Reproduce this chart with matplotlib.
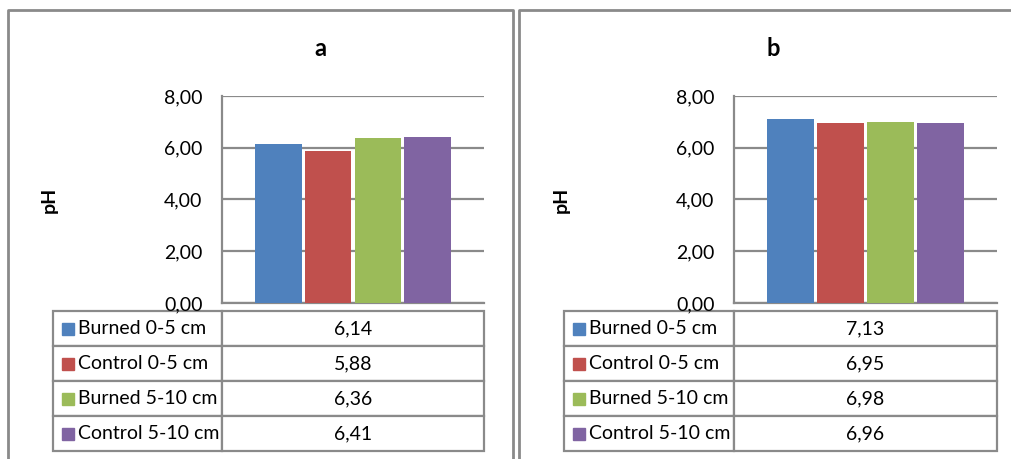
import matplotlib
matplotlib.use('Agg')
import matplotlib.pyplot as plt
from matplotlib.patches import Rectangle
from matplotlib.lines import Line2D
import numpy as np

plt.rcParams['font.family'] = ['Lato', 'DejaVu Sans']

series = ['Burned 0-5 cm', 'Control 0-5 cm', 'Burned 5-10 cm', 'Control 5-10 cm']
colors = ['#4F81BD', '#C0504D', '#9BBB59', '#8064A2']
ph_a = [6.14, 5.88, 6.36, 6.41]
ph_b = [7.13, 6.95, 6.98, 6.96]
yticks = [0, 2, 4, 6, 8]

W, H = 1012, 459
grey = '#8a8a8a'
fs = 14

def fmt(v):
    return '{:.2f}'.format(v).replace('.', ',')

fig = plt.figure(figsize=(W / 100, H / 100), dpi=100)

def px_rect(l, t, r, b):
    # pixel box -> figure fraction [left, bottom, width, height]
    return [l / W, 1 - b / H, (r - l) / W, (b - t) / H]

def panel(values, title, ax_box, tbl_left, title_x, ylab_x, frame_l, frame_r):
    l, t, r, b = ax_box
    ax = fig.add_axes(px_rect(l, t, r, b))
    x = np.arange(len(values))
    ax.bar(x, values, width=0.93, color=colors, zorder=3)
    ax.set_xlim(-1.136, 4.136)
    ax.set_ylim(0, 8)
    ax.set_yticks(yticks)
    ax.set_yticklabels([fmt(v) for v in yticks], fontsize=fs)
    ax.set_xticks([])
    ax.tick_params(axis='y', length=0, pad=14)
    ax.grid(axis='y', color=grey, lw=1.6, zorder=0)
    for s in ['top', 'right']:
        ax.spines[s].set_visible(False)
    for s in ['left', 'bottom']:
        ax.spines[s].set_color(grey)
        ax.spines[s].set_linewidth(1.6)
    ax.set_ylabel('pH', fontsize=fs, fontweight='bold')
    ax.yaxis.set_label_coords((ylab_x - l) / (r - l), 0.5)

    # data table below the plot
    tw = r - tbl_left
    bbox = [(tbl_left - l) / (r - l), (b - 451) / (b - t),
            tw / (r - l), (451 - 311) / (b - t)]
    cells = [[s, fmt(v)] for s, v in zip(series, values)]
    tbl = ax.table(cellText=cells, colWidths=[(l - tbl_left) / tw, (r - l) / tw],
                   cellLoc='center', bbox=bbox)
    tbl.auto_set_font_size(False)
    tbl.set_fontsize(fs)
    for (i, j), cell in tbl.get_celld().items():
        cell.set_edgecolor(grey)
        cell.set_linewidth(1.6)
        if j == 0:
            cell._loc = 'left'
            cell.PAD = 25 / (l - tbl_left)
            cell.get_text().set_ha('left')
    row_h = (451 - 311) / 4
    for i, c in enumerate(colors):
        cy = 311 + row_h * (i + 0.5)
        fig.add_artist(Rectangle(((tbl_left + 9) / W, 1 - (cy + 6) / H), 12 / W, 12 / H,
                                 transform=fig.transFigure, color=c))

    fig.text(title_x / W, 1 - 48 / H, title, fontsize=17, fontweight='bold',
             ha='center', va='center')
    # chart frame
    fig.add_artist(Line2D([frame_l / W, frame_l / W, frame_r / W, frame_r / W],
                          [-0.1, 1 - 10 / H, 1 - 10 / H, -0.1],
                          transform=fig.transFigure, color=grey, lw=2))

panel(ph_a, 'a', (222, 96, 484, 303), 53, 320, 58, 8, 513)
panel(ph_b, 'b', (734, 96, 997, 303), 564, 773, 570, 519, 1030)

fig.savefig('out.png', dpi=100)
